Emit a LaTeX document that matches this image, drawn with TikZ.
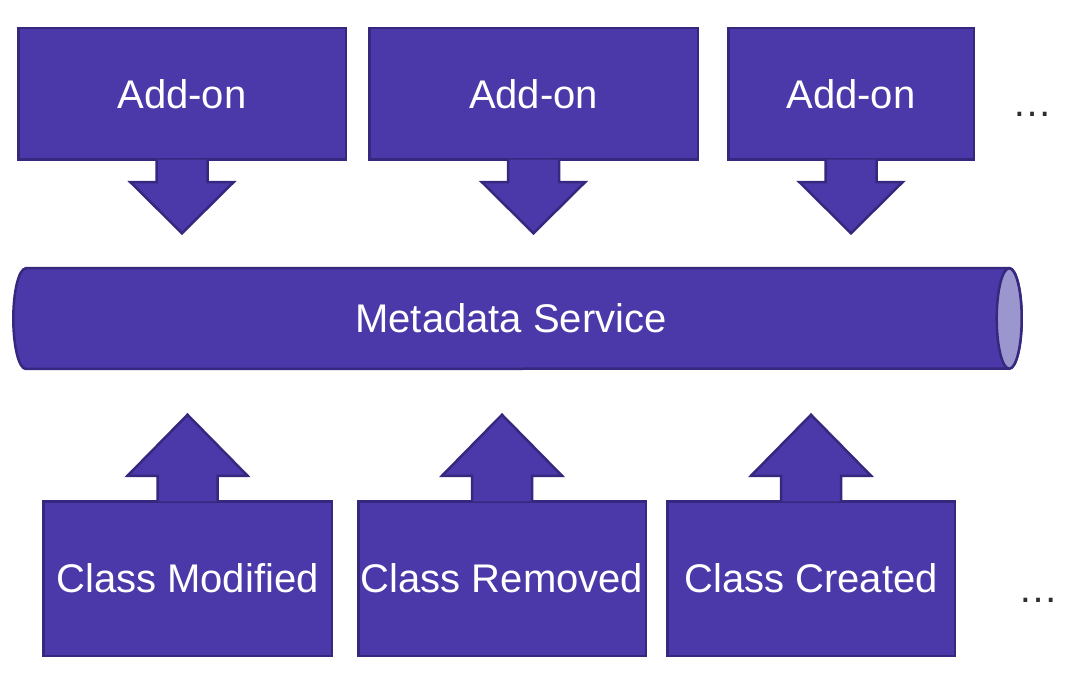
\documentclass[tikz,border=0pt]{standalone}
\usepackage{fontspec}
\setmainfont{Liberation Sans}

\definecolor{boxfill}{HTML}{4B39A9}
\definecolor{boxline}{HTML}{35287F}
\definecolor{pipeend}{HTML}{9C96CE}
\definecolor{dotgray}{HTML}{2E2E2E}

\begin{document}
\begin{tikzpicture}[x=1pt, y=-1pt,
    box/.style={draw=boxline, fill=boxfill, line width=2.5pt, text=white,
                font=\fontsize{40}{48}\selectfont, inner sep=0pt},
    pipe/.style={text=white, font=\fontsize{40}{48}\selectfont, inner sep=0pt},
    pipebody/.style={draw=boxline, fill=boxfill, line width=2.5pt},
    pipeface/.style={draw=boxline, fill=pipeend, line width=2.5pt},
    blockarrow/.style={draw=boxline, fill=boxfill, line width=2.5pt, line join=miter},
    more/.style={text=dotgray, font=\fontsize{40}{48}\selectfont, inner sep=0pt, anchor=base}]
    \useasboundingbox (0,0) rectangle (1089,687);

    % nodes: add-ons
    \node[box, minimum width=327.5pt, minimum height=131.5pt] (addonA) at (182, 94) {Add-on};
    \node[box, minimum width=328.5pt, minimum height=131.5pt] (addonB) at (533.5, 94) {Add-on};
    \node[box, minimum width=245.5pt, minimum height=131.5pt] (addonC) at (851, 94) {Add-on};
    \node[more] (moreTop) at (1032, 117) {…};
    % nodes: events
    \node[box, minimum width=288.5pt, minimum height=154.5pt] (classA) at (187.5, 578.5) {Class Modified};
    \node[box, minimum width=287.5pt, minimum height=154.5pt] (classB) at (502, 578.5) {Class Removed};
    \node[box, minimum width=287.5pt, minimum height=154.5pt] (classC) at (811, 578.5) {Class Created};
    \node[more] (moreBottom) at (1038, 602) {…};

    % service pipe
    \node[pipe, minimum width=983pt, minimum height=100.5pt] (meta) at (517.5, 318.5) {};
    \filldraw[pipebody] (meta.north west) -- (meta.north east)
        arc[start angle=-90, end angle=90, x radius=12.5, y radius=50.25] -- (meta.south west)
        arc[start angle=90, end angle=270, x radius=12.5, y radius=50.25] -- cycle;
    \filldraw[pipeface] (meta.east) ellipse [x radius=12.5, y radius=50.25];
    \node[pipe] (metaText) at (511, 318.5) {Metadata Service};

    % arrows: add-ons down to service
    \filldraw[blockarrow] ([xshift=-25.5pt, yshift=1.25pt]addonA.south) -- ++(0,22.5) -- ++(-26,0)
        -- ++(51.5,51) -- ++(51.5,-51) -- ++(-26,0) -- ++(0,-22.5);
    \filldraw[blockarrow] ([xshift=-25.5pt, yshift=1.25pt]addonB.south) -- ++(0,22.5) -- ++(-26,0)
        -- ++(51.5,51) -- ++(51.5,-51) -- ++(-26,0) -- ++(0,-22.5);
    \filldraw[blockarrow] ([xshift=-25.5pt, yshift=1.25pt]addonC.south) -- ++(0,22.5) -- ++(-26,0)
        -- ++(51.5,51) -- ++(51.5,-51) -- ++(-26,0) -- ++(0,-22.5);
    % arrows: events up to service
    \filldraw[blockarrow] ([xshift=-30pt, yshift=-1.25pt]classA.north) -- ++(0,-25.5) -- ++(-30,0)
        -- ++(60,-61) -- ++(60,61) -- ++(-30,0) -- ++(0,25.5);
    \filldraw[blockarrow] ([xshift=-30pt, yshift=-1.25pt]classB.north) -- ++(0,-25.5) -- ++(-30,0)
        -- ++(60,-61) -- ++(60,61) -- ++(-30,0) -- ++(0,25.5);
    \filldraw[blockarrow] ([xshift=-30pt, yshift=-1.25pt]classC.north) -- ++(0,-25.5) -- ++(-30,0)
        -- ++(60,-61) -- ++(60,61) -- ++(-30,0) -- ++(0,25.5);
\end{tikzpicture}
\end{document}
